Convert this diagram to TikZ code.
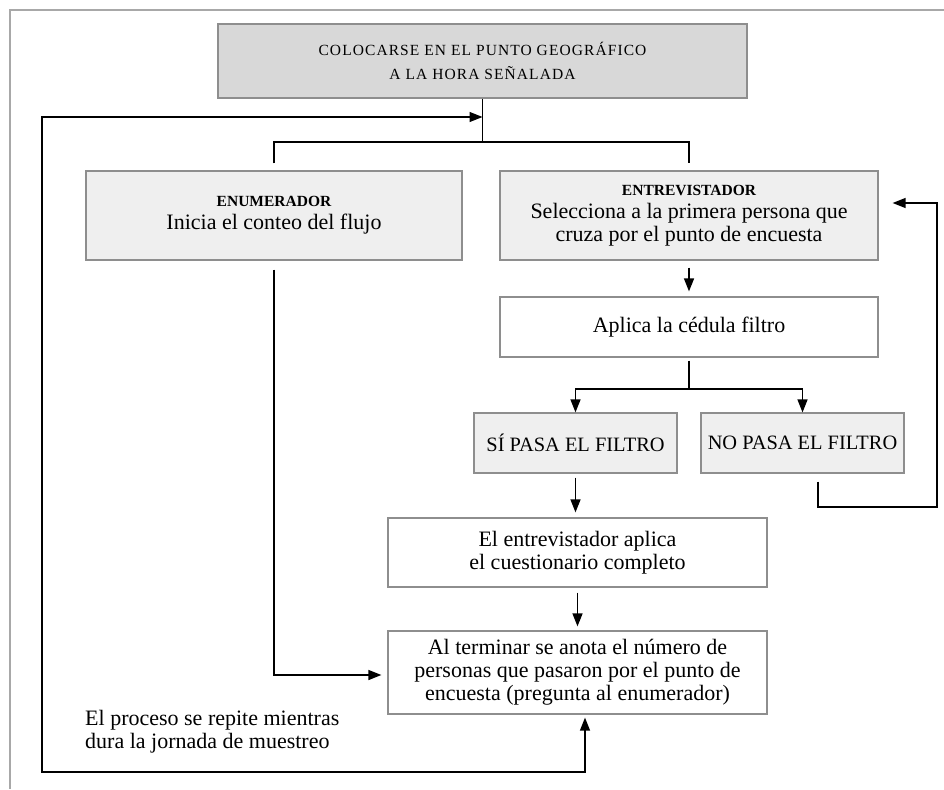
\documentclass[tikz,border=0pt]{standalone}
\usepackage{fontspec}
\setmainfont{Liberation Serif}
\newfontfamily\spacedcaps[LetterSpace=7]{Liberation Serif}
\usetikzlibrary{arrows.meta}

\definecolor{darkfill}{HTML}{D8D8D8}
\definecolor{lightfill}{HTML}{EFEFEF}
\definecolor{edgegray}{HTML}{8E8E8E}
\definecolor{framegray}{HTML}{A8A8A8}

\begin{document}
\begin{tikzpicture}[x=1pt, y=-1pt,
	box/.style={draw=edgegray, line width=1.2pt, rectangle, inner sep=2pt, align=center, font=\fontsize{22}{23}\selectfont},
	headbox/.style={box, fill=darkfill, font=\spacedcaps\fontsize{15.5}{23.5}\selectfont},
	shaded/.style={box, fill=lightfill},
	filtro/.style={shaded, minimum width=203pt, minimum height=60pt, font=\fontsize{20.4}{22}\selectfont},
	link/.style={line width=1.3pt},
	flow/.style={link, -{Triangle[length=13pt,width=10pt]}}]

	\useasboundingbox (0,0) rectangle (944,789);

	% Marco
	\draw [framegray, line width=1.4pt] (944,10) -- (10,10) -- (10,789);

	% Cajas
	\node [headbox, minimum width=529pt, minimum height=74pt] (inicio) at (482.5,61) {COLOCARSE EN EL PUNTO GEOGRÁFICO\\A LA HORA SEÑALADA};
	\node [shaded, minimum width=376pt, minimum height=89pt] (enum) at (274,215.5) {{\fontsize{15.5}{16}\selectfont\bfseries ENUMERADOR}\\Inicia el conteo del flujo};
	\node [shaded, minimum width=378pt, minimum height=89pt] (entrev) at (689,215.5) {{\fontsize{15.5}{16}\selectfont\bfseries ENTREVISTADOR}\\Selecciona a la primera persona que\\cruza por el punto de encuesta};
	\node [box, minimum width=378pt, minimum height=60pt] (aplica) at (689,327) {Aplica la cédula filtro};
	\node [filtro] (si) at (575.5,443) {SÍ PASA EL FILTRO};
	\node [filtro] (no) at (802.5,443) {NO PASA EL FILTRO};
	\node [box, minimum width=379pt, minimum height=69pt] (cuest) at (577.5,552.5) {El entrevistador aplica\\el cuestionario completo};
	\node [box, minimum width=379pt, minimum height=83pt] (final) at (577.5,672.5) {Al terminar se anota el número de\\personas que pasaron por el punto de\\encuesta (pregunta al enumerador)};

	% Texto
	\node [anchor=north west, inner sep=0pt, align=left, font=\fontsize{22}{23}\selectfont] (nota) at (85,710) {El proceso se repite mientras\\dura la jornada de muestreo};

	% Puntos de paso
	\coordinate (split) at (482.5,142);
	\coordinate (regreso) at (482.5,117);
	\coordinate (loopL) at (42,772);
	\coordinate (fork) at (689,389);
	\coordinate (noR) at (937,507);

	% Conectores
	\draw [link] (inicio.south) -- (split);
	\draw [link] ([yshift=7pt]enum.north) |- (split) -| ([yshift=7pt]entrev.north);
	\draw [flow, shorten <=7pt, shorten >=5pt] (entrev) -- (aplica);
	\draw [link] ([yshift=-3pt]aplica.south) -- (fork);
	\draw [flow] (fork) -| (si.north);
	\draw [flow] (fork) -| (no.north);
	\draw [flow, shorten <=4pt, shorten >=5pt] (si.south) -- (si.south |- cuest.north);
	\draw [flow, shorten <=5pt, shorten >=4pt] (cuest) -- (final);
	\draw [flow] ([xshift=15.5pt,yshift=-8pt]no.south) |- (noR) |- ([xshift=14pt,yshift=12.5pt]entrev.east);
	\draw [flow] ([yshift=-9pt]enum.south) |- ([xshift=-6pt,yshift=-2.5pt]final.west);
	\draw [link, {Triangle[length=13pt,width=10pt]}-{Triangle[length=13pt,width=10pt]}] (regreso) -| (loopL) -| ([xshift=7.5pt,yshift=-3pt]final.south);

\end{tikzpicture}
\end{document}
